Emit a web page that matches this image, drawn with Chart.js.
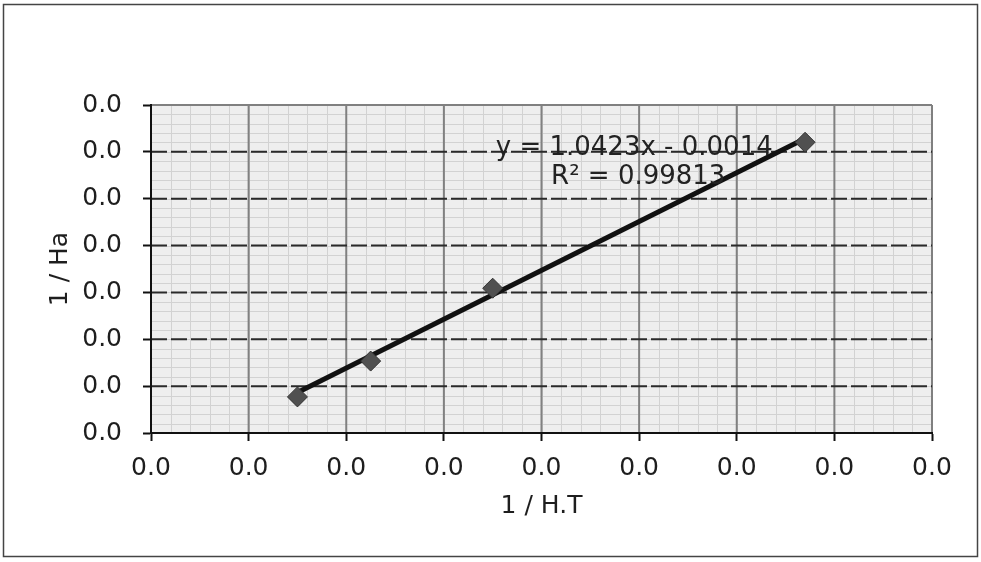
<!DOCTYPE html>
<html>
<head>
<meta charset="utf-8">
<script src="https://cdn.jsdelivr.net/npm/chart.js@4.4.0/dist/chart.umd.min.js"></script>
<style>
  html, body { margin: 0; padding: 0; background: #fff; }
  #wrap { width: 981px; height: 562px; }
</style>
</head>
<body>
<div id="wrap"><canvas id="c" width="981" height="562"></canvas></div>
<script>
// data
const xValues = [0.0030, 0.0045, 0.0070, 0.0134];
const yValues = [0.00154, 0.00307, 0.00618, 0.01241];
const slope = 1.0423;
const intercept = -0.0014;
const rSquared = 0.99813;
const xMin = 0, xMax = 0.016, xStep = 0.002;
const yMin = 0, yMax = 0.014, yStep = 0.002;
const minorDiv = 5;

const font = "'DejaVu Sans', Verdana, sans-serif";

const points = xValues.map((x, i) => ({ x: x, y: yValues[i] }));
const x0 = Math.min(...xValues), x1 = Math.max(...xValues);
const trend = [
    { x: x0, y: slope * x0 + intercept },
    { x: x1, y: slope * x1 + intercept }
];

const backdrop = {
    id: 'backdrop',
    beforeDraw(chart) {
        const ctx = chart.ctx;
        const a = chart.chartArea;
        const xs = chart.scales.x, ys = chart.scales.y;
        ctx.save();
        // outer frame
        ctx.strokeStyle = '#444';
        ctx.lineWidth = 1.5;
        ctx.strokeRect(3.5, 4.5, 974, 552);
        // plot fill
        ctx.fillStyle = '#eeeeee';
        ctx.fillRect(a.left, a.top, a.right - a.left, a.bottom - a.top);
        // minor grid
        ctx.strokeStyle = '#d2d2d2';
        ctx.lineWidth = 1;
        for (let v = xMin; v <= xMax + 1e-9; v += xStep / minorDiv) {
            const p = Math.round(xs.getPixelForValue(v)) + 0.5;
            ctx.beginPath(); ctx.moveTo(p, a.top); ctx.lineTo(p, a.bottom); ctx.stroke();
        }
        for (let v = yMin; v <= yMax + 1e-9; v += yStep / minorDiv) {
            const p = Math.round(ys.getPixelForValue(v)) + 0.5;
            ctx.beginPath(); ctx.moveTo(a.left, p); ctx.lineTo(a.right, p); ctx.stroke();
        }
        // major vertical lines, solid gray
        ctx.strokeStyle = '#808080';
        ctx.lineWidth = 2;
        xs.ticks.forEach(t => {
            const p = xs.getPixelForValue(t.value);
            ctx.beginPath(); ctx.moveTo(p, a.top); ctx.lineTo(p, a.bottom); ctx.stroke();
        });
        // major horizontal lines, dashed dark
        ctx.strokeStyle = '#2a2a2a';
        ctx.setLineDash([16, 4]);
        ys.ticks.forEach(t => {
            if (t.value >= yMax - 1e-9) return;
            const p = ys.getPixelForValue(t.value);
            ctx.beginPath(); ctx.moveTo(a.left, p); ctx.lineTo(a.right, p); ctx.stroke();
        });
        ctx.setLineDash([]);
        ctx.strokeStyle = '#808080';
        ctx.beginPath(); ctx.moveTo(a.left, a.top); ctx.lineTo(a.right, a.top); ctx.stroke();
        ctx.restore();
    },
    afterDatasetsDraw(chart) {
        const ctx = chart.ctx;
        const xs = chart.scales.x, ys = chart.scales.y;
        const cx = xs.getPixelForValue(0.0099);
        const cy = ys.getPixelForValue(0.01215);
        ctx.save();
        ctx.fillStyle = '#222';
        ctx.font = '26px ' + font;
        ctx.textAlign = 'center';
        ctx.textBaseline = 'middle';
        ctx.fillText('y = ' + slope + 'x - ' + Math.abs(intercept).toFixed(4), cx, cy);
        ctx.fillText('R\u00b2 = ' + rSquared, cx + 4, cy + 29);
        ctx.restore();
    }
};

new Chart(document.getElementById('c'), {
    type: 'scatter',
    data: {
        datasets: [
            {
                label: 'trend',
                data: trend,
                showLine: true,
                borderColor: '#111',
                borderWidth: 5,
                pointRadius: 0,
                order: 2
            },
            {
                label: 'data',
                data: points,
                pointStyle: 'rectRot',
                pointRadius: 10,
                backgroundColor: '#505050',
                borderColor: '#333',
                borderWidth: 1,
                order: 1
            }
        ]
    },
    options: {
        responsive: false,
        animation: false,
        events: [],
        layout: { padding: { left: 0, top: 105, right: 49, bottom: 0 } },
        plugins: { legend: { display: false }, tooltip: { enabled: false } },
        scales: {
            x: {
                type: 'linear',
                min: xMin, max: xMax,
                afterFit(s) { s.height = 129; },
                ticks: {
                    stepSize: xStep,
                    color: '#1e1e1e',
                    font: { family: font, size: 25 },
                    padding: 12,
                    maxRotation: 0,
                    callback: v => v.toFixed(1)
                },
                grid: { drawOnChartArea: false, tickLength: 8, tickColor: '#111', tickWidth: 2 },
                border: { color: '#111', width: 2 },
                title: {
                    display: true, text: '1 / H.T', color: '#1e1e1e',
                    font: { family: font, size: 25 }, padding: { top: 0, bottom: 41 }
                }
            },
            y: {
                type: 'linear',
                min: yMin, max: yMax,
                afterFit(s) { s.width = 151; },
                ticks: {
                    stepSize: yStep,
                    color: '#1e1e1e',
                    font: { family: font, size: 25 },
                    padding: 21,
                    callback: v => v.toFixed(1)
                },
                grid: { drawOnChartArea: false, tickLength: 8, tickColor: '#111', tickWidth: 2 },
                border: { color: '#111', width: 2 },
                title: {
                    display: true, text: '1 / Ha', color: '#1e1e1e',
                    font: { family: font, size: 25 }, padding: { top: 45, bottom: 0 }
                }
            }
        }
    },
    plugins: [backdrop]
});
</script>
</body>
</html>
